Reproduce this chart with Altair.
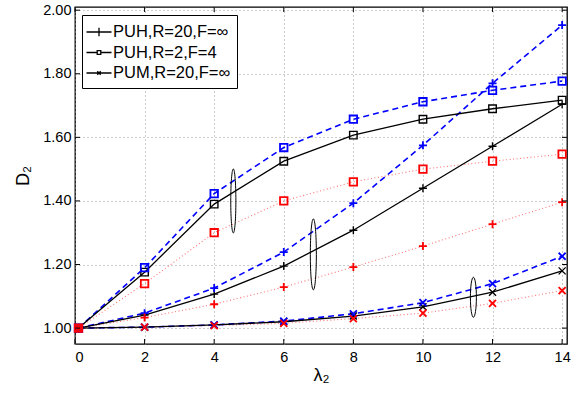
import altair as alt
import pandas as pd

lam = [0.1, 2, 4, 6, 8, 10, 12, 14]

puh20_black = [1.0, 1.041, 1.107, 1.195, 1.308, 1.440, 1.572, 1.704]
puh20_blue = [1.0, 1.047, 1.126, 1.239, 1.393, 1.575, 1.770, 1.953]
puh20_red = [1.0, 1.033, 1.075, 1.129, 1.192, 1.258, 1.327, 1.396]
puh2_black = [1.0, 1.176, 1.390, 1.525, 1.607, 1.657, 1.690, 1.717]
puh2_blue = [1.0, 1.190, 1.423, 1.568, 1.657, 1.712, 1.748, 1.777]
puh2_red = [1.0, 1.140, 1.300, 1.400, 1.460, 1.500, 1.525, 1.547]
pum_black = [1.0, 1.003, 1.010, 1.020, 1.038, 1.067, 1.113, 1.180]
pum_blue = [1.0, 1.003, 1.010, 1.022, 1.045, 1.080, 1.140, 1.226]
pum_red = [1.0, 1.003, 1.008, 1.015, 1.030, 1.047, 1.078, 1.118]

series_names = ["PUH,R=20,F=\u221e", "PUH,R=2,F=4", "PUM,R=20,F=\u221e"]

ell_x = [4.55, 6.85, 11.45]
ell_y = [1.400, 1.232, 1.097]
ell_id = ["e1", "e2", "e3"]

x_ticks = [0, 2, 4, 6, 8, 10, 12, 14]
y_ticks = [1.0, 1.2, 1.4, 1.6, 1.8, 2.0]

W, H = 492, 337

marker_paths = [
    "M-1,0L1,0M0,-1L0,1",
    "M-1,-1L1,-1L1,1L-1,1Z",
    "M-1,-1L1,1M-1,1L1,-1",
]
legend_paths = [
    "M-1.25,0L1.25,0M0,-0.42L0,0.42",
    "M-1.25,0L-0.18,0M0.18,0L1.25,0M-0.18,-0.18L0.18,-0.18L0.18,0.18L-0.18,0.18Z",
    "M-1.25,0L1.25,0M-0.17,-0.17L0.17,0.17M-0.17,0.17L0.17,-0.17",
]

variants = {
    "black": [puh20_black, puh2_black, pum_black],
    "blue": [puh20_blue, puh2_blue, pum_blue],
    "red": [puh20_red, puh2_red, pum_red],
}

xs = alt.Scale(domain=[0, 14.14], nice=False, zero=False)
ys = alt.Scale(domain=[0.95, 2.01], nice=False, zero=False)

x_enc = alt.X("lam:Q", scale=xs, axis=alt.Axis(values=x_ticks, title="\u03bb\u2082", format="d"))
y_enc = alt.Y("D:Q", scale=ys, axis=alt.Axis(values=y_ticks, title="D\u2082", format=".2f"))

line_style = {
    "black": dict(color="black", strokeWidth=1.3),
    "blue": dict(color="#0000ff", strokeWidth=1.6, strokeDash=[6, 4]),
    "red": dict(color="#ff0000", strokeWidth=1.1, strokeDash=[1, 2.5], opacity=0.55),
}
point_style = {
    "black": dict(color="black", strokeWidth=1.4),
    "blue": dict(color="#0000ff", strokeWidth=1.8),
    "red": dict(color="#ff0000", strokeWidth=1.8),
}
sizes = [64, 56, 49]

layers = []

for order in ["red", "blue", "black"]:
    rows = []
    for name, vals in zip(series_names, variants[order]):
        for l, v in zip(lam, vals):
            rows.append({"lam": l, "D": v, "series": name})
    df = pd.DataFrame(rows)
    layers.append(
        alt.Chart(df).mark_line(**line_style[order]).encode(
            x=x_enc, y=y_enc, detail="series:N"
        )
    )
for order in ["black", "blue", "red"]:
    rows = []
    for name, vals in zip(series_names, variants[order]):
        for l, v in zip(lam, vals):
            rows.append({"lam": l, "D": v, "series": name})
    df = pd.DataFrame(rows)
    layers.append(
        alt.Chart(df).mark_point(filled=False, opacity=1, **point_style[order]).encode(
            x=x_enc,
            y=y_enc,
            shape=alt.Shape("series:N", scale=alt.Scale(domain=series_names, range=marker_paths), legend=None),
            size=alt.Size("series:N", scale=alt.Scale(type="ordinal", domain=series_names, range=sizes), legend=None),
        )
    )

# inward tick marks on all four sides
xt = pd.DataFrame({"lam": x_ticks})
yt = pd.DataFrame({"D": y_ticks})
layers.append(alt.Chart(xt).mark_rule(color="black", strokeWidth=1).encode(
    x=x_enc, y=alt.value(H), y2=alt.value(H - 5)))
layers.append(alt.Chart(xt).mark_rule(color="black", strokeWidth=1).encode(
    x=x_enc, y=alt.value(0), y2=alt.value(5)))
layers.append(alt.Chart(yt).mark_rule(color="black", strokeWidth=1).encode(
    y=y_enc, x=alt.value(0), x2=alt.value(5)))
layers.append(alt.Chart(yt).mark_rule(color="black", strokeWidth=1).encode(
    y=y_enc, x=alt.value(W), x2=alt.value(W - 5)))

# ellipse annotations
ell_df = pd.DataFrame({"lam": ell_x, "D": ell_y, "eid": ell_id})
ell_paths = [
    "M0,-1A0.08,1,0,1,1,0,1A0.08,1,0,1,1,0,-1Z",
    "M0,-1A0.085,1,0,1,1,0,1A0.085,1,0,1,1,0,-1Z",
    "M0,-1A0.15,1,0,1,1,0,1A0.15,1,0,1,1,0,-1Z",
]
layers.append(
    alt.Chart(ell_df).mark_point(filled=False, color="black", strokeWidth=1, opacity=1).encode(
        x=x_enc,
        y=y_enc,
        shape=alt.Shape("eid:N", scale=alt.Scale(domain=ell_id, range=ell_paths), legend=None),
        size=alt.Size("eid:N", scale=alt.Scale(type="ordinal", domain=ell_id, range=[4096, 5041, 1600]), legend=None),
    )
)

# legend-only layer
leg_df = pd.DataFrame({"lam": [lam[0]] * 3, "D": [1.0] * 3, "lg": series_names})
layers.append(
    alt.Chart(leg_df).mark_point(opacity=0, filled=False).encode(
        x=x_enc,
        y=y_enc,
        shape=alt.Shape(
            "lg:N",
            scale=alt.Scale(domain=series_names, range=legend_paths),
            legend=alt.Legend(
                title=None,
                orient="none",
                legendX=7,
                legendY=8,
                symbolSize=400,
                symbolStrokeColor="black",
                symbolFillColor="transparent",
                symbolStrokeWidth=1.3,
                symbolOpacity=1,
                labelFontSize=16.5,
                labelFont="Liberation Sans",
                labelColor="black",
                labelOffset=3,
                rowPadding=0.5,
                padding=6,
                strokeColor="black",
                fillColor="white",
                cornerRadius=0,
            ),
        ),
    )
)

chart = (
    alt.layer(*layers)
    .resolve_scale(shape="independent", size="independent")
    .properties(
        width=W,
        height=H,
        autosize=alt.AutoSizeParams(type="none"),
        padding={"left": 75, "top": 7, "right": 7, "bottom": 50},
        background="white",
    )
    .configure_view(stroke="black", strokeWidth=1.3)
    .configure_axis(
        grid=True,
        gridColor="#999999",
        gridDash=[1, 3],
        gridWidth=1,
        domain=False,
        ticks=False,
        labelFont="Liberation Sans",
        labelFontSize=14.5,
        labelColor="black",
        titleFont="Liberation Sans",
        titleFontSize=18,
        titleFontWeight="normal",
        titleColor="black",
    )
    .configure_axisX(labelPadding=6, titlePadding=3)
    .configure_axisY(labelPadding=4, titlePadding=10)
)

chart.save("out.html", embed_options={"renderer": "svg", "actions": False})
